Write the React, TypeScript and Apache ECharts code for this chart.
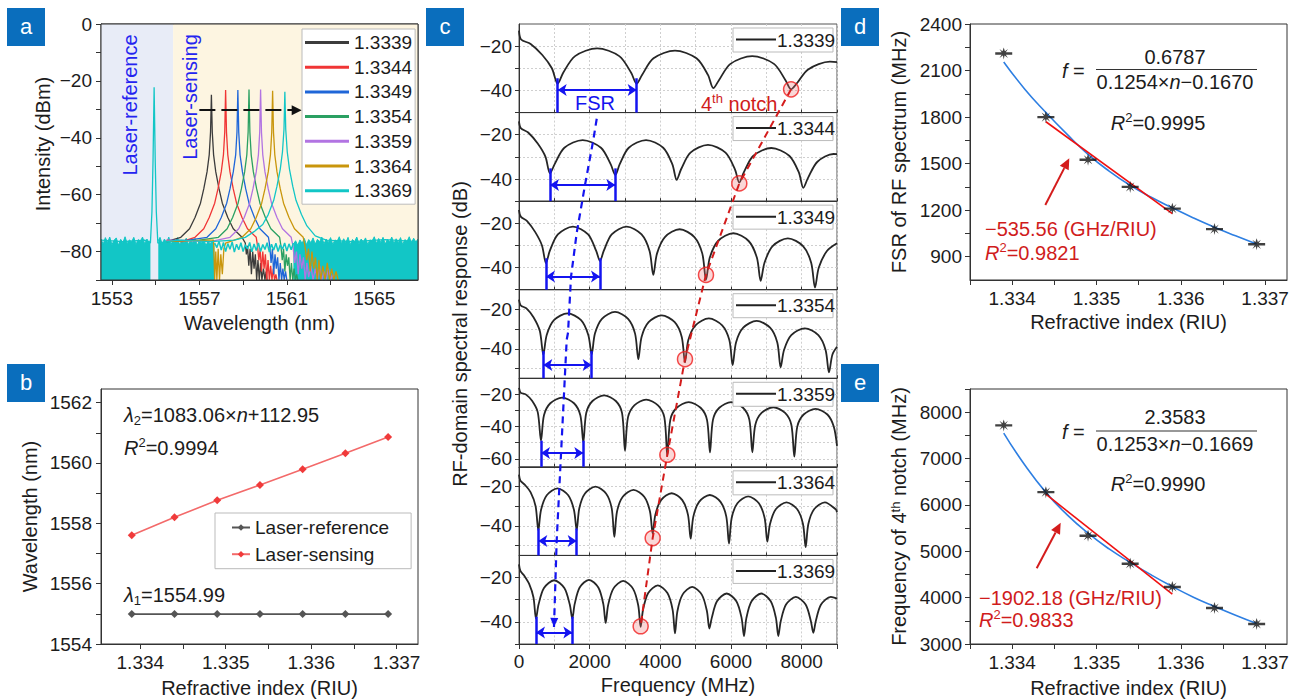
import React, { useEffect, useRef } from 'react';
import * as echarts from 'echarts';

const FONT = "'Liberation Sans', Arial, Helvetica, sans-serif";
const INK = '#1c1c1c';
const BLUE_TXT = '#2424f0';
const RED_TXT = '#d01c1c';
const PANEL_BLUE = '#0a6ebd';
const FSR_BLUE = '#1414f0';

// ---------------- Panel a : optical spectra ----------------
const indexLabels = ['1.3339', '1.3344', '1.3349', '1.3354', '1.3359', '1.3364', '1.3369'];
const specColors = ['#3c3c3c', '#f03535', '#1f66d8', '#2aa062', '#b274e2', '#c9960c', '#12c6c6'];
const aXTicks = [1553, 1555, 1557, 1559, 1561, 1563, 1565];
const aXLabels = [1553, 1557, 1561, 1565];
const aYTicks = [-90, -80, -70, -60, -50, -40, -30, -20, -10, 0];
const aYLabels = [-80, -60, -40, -20, 0];
const regionRef = [1552.5, 1555.8];
const regionSens = [1555.8, 1567];

const spec_1_3339 = [[1555.5,-76.5],[1555.8,-75.8],[1556.15,-75],[1556.55,-72],[1556.8,-68],[1557.05,-63],[1557.2,-58],[1557.35,-52],[1557.45,-46],[1557.51,-38],[1557.55,-24.9],[1557.59,-38],[1557.65,-46],[1557.75,-52],[1557.9,-58],[1558.05,-63],[1558.3,-68],[1558.55,-72],[1558.95,-75],[1559.1,-77],[1559.15,-81],[1559.2,-78],[1559.26,-85],[1559.32,-79],[1559.38,-88],[1559.44,-80],[1559.5,-86],[1559.56,-81],[1559.62,-90],[1559.68,-83],[1559.74,-90],[1559.8,-84],[1559.86,-90],[1559.93,-86],[1560.0,-90],[1560.05,-87],[1560.1,-90]];
const spec_1_3344 = [[1555.5,-76],[1556.2,-76.5],[1556.8,-75],[1557.2,-72],[1557.45,-68],[1557.7,-63],[1557.85,-58],[1558.0,-52],[1558.1,-46],[1558.16,-38],[1558.2,-23.2],[1558.24,-38],[1558.3,-46],[1558.4,-52],[1558.55,-58],[1558.7,-63],[1558.95,-68],[1559.2,-72],[1559.6,-75],[1559.66,-78],[1559.72,-83],[1559.78,-79],[1559.84,-87],[1559.9,-80],[1559.96,-86],[1560.02,-81],[1560.08,-90],[1560.14,-83],[1560.2,-90],[1560.26,-85],[1560.32,-90],[1560.38,-86],[1560.44,-90],[1560.5,-88],[1560.55,-90]];
const spec_1_3349 = [[1555.5,-76.2],[1556.5,-76],[1557.35,-75],[1557.75,-72],[1558.0,-68],[1558.25,-63],[1558.4,-58],[1558.55,-52],[1558.66,-46],[1558.72,-38],[1558.76,-23.2],[1558.8,-38],[1558.86,-46],[1558.97,-52],[1559.12,-58],[1559.27,-63],[1559.52,-68],[1559.77,-72],[1560.16,-75],[1560.22,-78],[1560.28,-84],[1560.34,-79],[1560.4,-88],[1560.46,-81],[1560.52,-86],[1560.58,-82],[1560.64,-90],[1560.7,-84],[1560.76,-90],[1560.82,-86],[1560.88,-90],[1560.94,-87],[1561.0,-90]];
const spec_1_3354 = [[1555.5,-76.5],[1557.0,-76],[1557.87,-75],[1558.27,-72],[1558.52,-68],[1558.77,-63],[1558.92,-58],[1559.07,-52],[1559.17,-46],[1559.23,-38],[1559.27,-23],[1559.31,-38],[1559.37,-46],[1559.47,-52],[1559.62,-58],[1559.77,-63],[1560.02,-68],[1560.27,-72],[1560.67,-75],[1560.73,-78],[1560.79,-83],[1560.85,-79],[1560.91,-87],[1560.97,-81],[1561.03,-85],[1561.09,-82],[1561.15,-90],[1561.21,-84],[1561.27,-90],[1561.33,-86],[1561.39,-90],[1561.45,-88],[1561.5,-90]];
const spec_1_3359 = [[1555.5,-76],[1557.5,-76.5],[1558.4,-75],[1558.8,-72],[1559.05,-68],[1559.3,-63],[1559.45,-58],[1559.6,-52],[1559.7,-46],[1559.76,-38],[1559.8,-23],[1559.84,-38],[1559.9,-46],[1560.0,-52],[1560.15,-58],[1560.3,-63],[1560.55,-68],[1560.8,-72],[1561.2,-75],[1561.28,-78],[1561.36,-84],[1561.44,-80],[1561.52,-88],[1561.6,-81],[1561.68,-86],[1561.76,-82],[1561.84,-90],[1561.92,-84],[1562.0,-89],[1562.1,-85],[1562.2,-90],[1562.3,-86],[1562.4,-90],[1562.5,-85],[1562.6,-90],[1562.7,-87],[1562.8,-90],[1562.9,-86],[1563.0,-90],[1563.1,-88],[1563.15,-90]];
const spec_1_3364 = [[1555.5,-76.4],[1557.5,-76],[1557.65,-76],[1557.7,-90],[1557.75,-80],[1557.8,-90],[1557.86,-79],[1557.92,-90],[1557.98,-81],[1558.05,-88],[1558.12,-79],[1558.2,-77],[1558.95,-75],[1559.35,-72],[1559.6,-68],[1559.85,-63],[1560.0,-58],[1560.15,-52],[1560.25,-46],[1560.31,-38],[1560.35,-23.5],[1560.39,-38],[1560.45,-46],[1560.55,-52],[1560.7,-58],[1560.85,-63],[1561.1,-68],[1561.35,-72],[1561.75,-75],[1561.83,-78],[1561.91,-83],[1561.99,-79],[1562.07,-87],[1562.15,-80],[1562.23,-86],[1562.31,-82],[1562.39,-90],[1562.47,-83],[1562.55,-90],[1562.65,-85],[1562.75,-90],[1562.85,-84],[1562.95,-90],[1563.05,-86],[1563.15,-90],[1563.25,-87],[1563.35,-90]];
const spec_1_3369 = [[1552.5,-76],[1553.5,-76.5],[1554.5,-76],[1554.76,-77],[1554.83,-66],[1554.88,-48],[1554.93,-22.2],[1554.98,-48],[1555.03,-66],[1555.1,-77],[1556.0,-76],[1557.5,-76.5],[1558.6,-76],[1559.1,-75],[1559.5,-73],[1559.9,-70.5],[1560.15,-67],[1560.4,-62],[1560.55,-57],[1560.7,-51],[1560.8,-45],[1560.87,-37],[1560.91,-23.8],[1560.95,-37],[1561.02,-45],[1561.12,-51],[1561.27,-57],[1561.42,-62],[1561.67,-67],[1561.92,-71],[1562.3,-74.5],[1562.8,-76],[1564.0,-76.5],[1565.5,-75.8],[1567.0,-76.5]];
const spectra = [spec_1_3339, spec_1_3344, spec_1_3349, spec_1_3354, spec_1_3359, spec_1_3364, spec_1_3369];

// dense noise floor (drawn as a filled band down to the bottom of the axis)
const noiseFill = [[1552.5,-75.6],[1552.6,-77.4],[1552.7,-75.1],[1552.8,-76.8],[1552.9,-74.9],[1553.0,-77.6],[1553.1,-76.0],[1553.2,-75.2],[1553.3,-77.8],[1553.4,-75.7],[1553.5,-76.9],[1553.6,-74.8],[1553.7,-77.2],[1553.8,-75.9],[1553.9,-76.6],[1554.0,-75.0],[1554.1,-77.5],[1554.2,-75.8],[1554.3,-76.4],[1554.4,-74.9],[1554.5,-77.3],[1554.6,-75.6],[1554.7,-76.8],[1554.76,-76.0],[1554.77,'-'],[1555.12,-76.2],[1555.2,-75.0],[1555.3,-77.4],[1555.4,-75.6],[1555.5,-76.9],[1555.6,-74.9],[1555.7,-77.6],[1555.8,-75.8],[1555.9,-76.5],[1556.0,-75.1],[1556.1,-77.7],[1556.2,-75.9],[1556.3,-76.8],[1556.4,-75.3],[1556.5,-77.5],[1556.6,-76.0],[1556.7,-76.9],[1556.8,-75.4],[1556.9,-77.8],[1557.0,-76.2],[1557.1,-77.0],[1557.2,-75.7],[1557.3,-77.9],[1557.4,-76.4],[1557.5,-77.3],[1557.6,-76.1],[1557.69,-77.6],[1557.7,'-'],[1561.3,-77.5],[1561.4,-76.2],[1561.5,-77.8],[1561.6,-75.9],[1561.7,-77.1],[1561.8,-75.4],[1561.9,-77.6],[1562.0,-75.8],[1562.1,-76.9],[1562.2,-75.2],[1562.3,-77.4],[1562.4,-75.7],[1562.5,-76.6],[1562.6,-74.9],[1562.7,-77.3],[1562.8,-75.6],[1562.9,-76.8],[1563.0,-75.1],[1563.1,-77.5],[1563.2,-75.9],[1563.3,-76.4],[1563.4,-74.8],[1563.5,-77.2],[1563.6,-75.5],[1563.7,-76.9],[1563.8,-75.0],[1563.9,-77.6],[1564.0,-75.8],[1564.1,-76.5],[1564.2,-74.9],[1564.3,-77.3],[1564.4,-75.6],[1564.5,-76.7],[1564.6,-75.2],[1564.7,-77.5],[1564.8,-75.9],[1564.9,-76.3],[1565.0,-74.8],[1565.1,-77.1],[1565.2,-75.4],[1565.3,-76.8],[1565.4,-75.0],[1565.5,-77.4],[1565.6,-75.7],[1565.7,-76.6],[1565.8,-74.9],[1565.9,-77.2],[1566.0,-75.5],[1566.1,-76.9],[1566.2,-75.1],[1566.3,-77.5],[1566.4,-75.8],[1566.5,-76.4],[1566.6,-74.8],[1566.7,-77.0],[1566.8,-75.3],[1566.9,-76.7],[1567.0,-75.6]];
const noiseBand = [[1557.7,-77],[1557.8,-78.6],[1557.9,-76.4],[1558.0,-79.5],[1558.1,-76.8],[1558.2,-80],[1558.3,-77.2],[1558.4,-79.2],[1558.5,-76.6],[1558.6,-80.2],[1558.7,-77.4],[1558.8,-79.4],[1558.9,-76.9],[1559.0,-80],[1559.1,-77.6],[1559.2,-79.1],[1559.3,-76.8],[1559.4,-80.1],[1559.5,-77.3],[1559.6,-79.6],[1559.7,-77],[1559.8,-80],[1559.9,-77.5],[1560.0,-79.3],[1560.1,-76.9],[1560.2,-80.2],[1560.3,-77.4],[1560.4,-79.5],[1560.5,-77.1],[1560.6,-80],[1560.7,-77.6],[1560.8,-79.2],[1560.9,-77],[1561.0,-79.8],[1561.1,-77.3],[1561.2,-79.4],[1561.3,-77]];
const shiftArrow = [[1557.0, -30.3], [1561.45, -30.3]];

// ---------------- Panel b : wavelength vs index ----------------
const riu = [1.3339, 1.3344, 1.3349, 1.3354, 1.3359, 1.3364, 1.3369];
const lambdaRef = [1554.99, 1554.99, 1554.99, 1554.99, 1554.99, 1554.99, 1554.99];
const lambdaSens = [1557.6, 1558.2, 1558.76, 1559.27, 1559.79, 1560.32, 1560.86];
const bXTicks = [1.3335, 1.334, 1.3345, 1.335, 1.3355, 1.336, 1.3365, 1.337];
const bXLabels = [1.334, 1.335, 1.336, 1.337];
const bYTicks = [1554, 1555, 1556, 1557, 1558, 1559, 1560, 1561, 1562];
const bYLabels = [1554, 1556, 1558, 1560, 1562];

// ---------------- Panel c : RF spectra ----------------
const rf_1_3339 = [[0,-13],[60,-17],[330,-19],[660,-24],[930,-30],[1095,-37],[1251,-32],[1587,-24.5],[2212,-21],[2838,-24.5],[3174,-32],[3330,-37],[3482,-33],[3807,-25.5],[4415,-22],[5023,-25.5],[5348,-33],[5500,-39],[5654,-35.5],[5984,-28],[6600,-24.5],[7216,-28],[7546,-35.5],[7700,-39.5],[7854,-37],[8184,-30.5],[8800,-27],[9000,-27.2]];
const rf_1_3344 = [[0,-14],[50,-17],[260,-19],[530,-24],[750,-30],[877,-37.5],[1006,-33.4],[1284,-25.9],[1802,-22.4],[2319,-25.9],[2597,-33.4],[2726,-38.2],[2848,-33.4],[3108,-25.9],[3595,-22.4],[4081,-25.9],[4341,-33.4],[4463,-40.4],[4587,-35.6],[4853,-28.1],[5349,-24.6],[5845,-28.1],[6111,-35.6],[6235,-41.6],[6362,-37],[6634,-29.5],[7141,-26],[7648,-29.5],[7920,-37],[8047,-44],[8174,-39.7],[8446,-32.2],[8900,-28.7],[9000,-28.8]];
const rf_1_3349 = [[0,-14],[50,-17],[230,-19],[460,-24],[650,-30],[764,-38],[871,-32.5],[1100,-25],[1528,-21.5],[1956,-25],[2185,-32.5],[2292,-37],[2398,-32.5],[2624,-25],[3047,-21.5],[3469,-25],[3695,-32.5],[3801,-43.3],[3905,-33.7],[4129,-26.2],[4547,-22.7],[4964,-26.2],[5188,-33.7],[5292,-45.5],[5400,-35.5],[5633,-28],[6066,-24.5],[6499,-28],[6732,-35.5],[6840,-46],[6948,-37.8],[7178,-30.3],[7609,-26.8],[8039,-30.3],[8269,-37.8],[8377,-49],[8485,-40],[8715,-32.5],[9000,-29]];
const rf_1_3354 = [[0,-15],[50,-18],[210,-19.5],[410,-24],[590,-31],[688,-43],[784,-33],[989,-25.5],[1373,-22],[1756,-25.5],[1961,-33],[2057,-42.8],[2149,-32.3],[2347,-24.8],[2717,-21.3],[3087,-24.8],[3285,-32.3],[3377,-45.3],[3469,-34],[3668,-26.5],[4038,-23],[4407,-26.5],[4606,-34],[4698,-46.9],[4792,-35.6],[4995,-28.1],[5373,-24.6],[5750,-28.1],[5953,-35.6],[6047,-48.3],[6142,-36.8],[6346,-29.3],[6726,-25.8],[7106,-29.3],[7310,-36.8],[7405,-49.4],[7501,-40.6],[7706,-33.1],[8089,-29.6],[8472,-33.1],[8677,-40.6],[8773,-52],[8869,-43],[9000,-39]];
const rf_1_3359 = [[0,-16],[50,-19],[190,-20],[370,-24],[530,-31],[623,-48.7],[707,-33],[886,-25.5],[1222,-22],[1557,-25.5],[1736,-33],[1820,-49.7],[1903,-31.6],[2080,-24.1],[2410,-20.6],[2740,-24.1],[2917,-31.6],[3000,-55],[3084,-34.3],[3264,-26.8],[3599,-23.3],[3934,-26.8],[4114,-34.3],[4198,-58],[4282,-35.8],[4464,-28.3],[4802,-24.8],[5139,-28.3],[5321,-35.8],[5405,-56],[5489,-35.8],[5669,-28.3],[6005,-24.8],[6340,-28.3],[6520,-35.8],[6604,-56],[6687,-39],[6865,-31.5],[7198,-28],[7531,-31.5],[7709,-39],[7792,-58.7],[7876,-40],[8056,-32.5],[8392,-29],[8728,-32.5],[8908,-40],[9000,-52]];
const rf_1_3364 = [[0,-14],[40,-17],[160,-19],[330,-23],[470,-30],[547,-42.2],[623,-31.9],[786,-24.4],[1090,-20.9],[1393,-24.4],[1556,-31.9],[1632,-42.2],[1707,-31],[1867,-23.5],[2165,-20],[2463,-23.5],[2623,-31],[2698,-45.6],[2774,-32.7],[2937,-25.2],[3241,-21.7],[3544,-25.2],[3707,-32.7],[3783,-44],[3858,-34.4],[4020,-26.9],[4321,-23.4],[4622,-26.9],[4783,-34.4],[4858,-46.5],[4934,-35.3],[5097,-27.8],[5401,-24.3],[5704,-27.8],[5867,-35.3],[5943,-49],[6019,-36],[6182,-28.5],[6486,-25],[6789,-28.5],[6952,-36],[7028,-48],[7104,-39],[7267,-31.5],[7571,-28],[7874,-31.5],[8037,-39],[8113,-50.8],[8189,-39],[8352,-31.5],[8656,-28],[8959,-31.5],[9000,-33]];
const rf_1_3369 = [[0,-14],[40,-17],[140,-19],[290,-23],[410,-29],[481,-38.5],[553,-32.2],[707,-24.7],[995,-21.2],[1283,-24.7],[1437,-32.2],[1509,-38.5],[1575,-32],[1717,-24.5],[1981,-21],[2245,-24.5],[2387,-32],[2453,-40.5],[2522,-32.5],[2671,-25],[2948,-21.5],[3225,-25],[3374,-32.5],[3443,-42.2],[3511,-34.5],[3657,-27],[3929,-23.5],[4201,-27],[4347,-34.5],[4415,-45.2],[4483,-35.2],[4629,-27.7],[4901,-24.2],[5173,-27.7],[5319,-35.2],[5387,-43],[5456,-38.2],[5603,-30.7],[5878,-27.2],[6152,-30.7],[6299,-38.2],[6368,-46.4],[6436,-38.2],[6582,-30.7],[6854,-27.2],[7125,-30.7],[7271,-38.2],[7339,-46.4],[7408,-39.7],[7557,-32.2],[7835,-28.7],[8112,-32.2],[8261,-39.7],[8330,-45],[8399,-39.7],[8548,-32.2],[8826,-28.7],[9000,-29.5]];
const rfCurves = [rf_1_3339, rf_1_3344, rf_1_3349, rf_1_3354, rf_1_3359, rf_1_3364, rf_1_3369];
const cYMin = [-50, -50, -50, -55, -65, -55, -50];
const cYTicks = [[-50,-40,-30,-20],[-50,-40,-30,-20],[-50,-40,-30,-20],[-50,-40,-30,-20],[-60,-50,-40,-30,-20],[-50,-40,-30,-20],[-50,-40,-30,-20]];
const cYLabels = [[-40,-20],[-40,-20],[-40,-20],[-40,-20],[-60,-40,-20],[-40,-20],[-40,-20]];
const fsrNotches = [[1095,3330],[877,2726],[764,2292],[688,2057],[623,1820],[547,1632],[481,1509]];
const fsrTop = [-34.5, -35.2, -35.8, -41.2, -48.75, -41.3, -37.7];
const fsrArrowY = [-39.8, -42.7, -44, -48.3, -56.4, -47.7, -44.8];
const notch4 = [[7700,-39.5],[6235,-42],[5292,-43.3],[4698,-45.3],[4198,-57.5],[3783,-46.2],[3443,-42]];
const fsrTrend = [[1,2200,-12.8],[1,2103,-22.4],[1,1868,-42.7],[2,1633,-24.4],[2,1472,-44.2],[3,1387,-31.9],[3,1350,-35.4],[4,1208,-48.75],[5,1067,-47.3],[6,990,-42.3]];

// ---------------- Panel d : FSR vs index ----------------
const fsrMHz = [2210, 1800, 1525, 1350, 1210, 1078, 980];
const fsrFit = [[1.3339,2155],[1.33415,1980],[1.3344,1830],[1.33465,1690],[1.3349,1560],[1.33515,1452],[1.3354,1360],[1.33565,1283],[1.3359,1215],[1.33615,1150],[1.3364,1090],[1.33665,1035],[1.3369,982]];
const fsrTangent = [[1.3344, 1770], [1.3359, 1178]];
const dXTicks = [1.3335, 1.334, 1.3345, 1.335, 1.3355, 1.336, 1.3365, 1.337];
const dXLabels = [1.334, 1.335, 1.336, 1.337];
const dYTicks = [900, 1050, 1200, 1350, 1500, 1650, 1800, 1950, 2100, 2250, 2400];
const dYLabels = [900, 1200, 1500, 1800, 2100, 2400];

// ---------------- Panel e : 4th notch vs index ----------------
const notchMHz = [7715, 6275, 5335, 4730, 4230, 3775, 3430];
const notchFit = [[1.3339,7550],[1.33415,6860],[1.3344,6270],[1.33465,5790],[1.3349,5390],[1.33515,5050],[1.3354,4760],[1.33565,4490],[1.3359,4240],[1.33615,4010],[1.3364,3810],[1.33665,3620],[1.3369,3440]];
const notchTangent = [[1.3344, 6230], [1.3359, 4075]];
const eYTicks = [3000, 3500, 4000, 4500, 5000, 5500, 6000, 6500, 7000, 7500, 8000, 8500];
const eYLabels = [3000, 4000, 5000, 6000, 7000, 8000];

// ---------------- helpers ----------------
const neg = (v: number) => (v < 0 ? '\u2212' + Math.abs(v) : String(v));
const axisLineS = { show: true, onZero: false, lineStyle: { color: '#333', width: 1 } };
const tickS = (vals: number[], len = 5, inside = false) => ({ show: true, customValues: vals, length: len, inside, lineStyle: { color: '#333', width: 1 } });
const labelS = (vals: number[], fmt: any, margin = 8) => ({ show: true, customValues: vals, formatter: fmt, fontSize: 19, color: INK, fontFamily: FONT, margin });
const nameS = { fontSize: 20, color: INK, fontFamily: FONT };
const noSplit = { show: false };
const dotted = { show: true, lineStyle: { color: '#cfcfcf', type: [2, 2], width: 1 } };
const star = 'path://M0,4L16,4L16,6L0,6Z M8,0L9.4,4L8,10L6.6,4Z M4,1.2L8.7,4.4L7.3,5.6Z M12,1.2L8.7,5.6L7.3,4.4Z M4,8.8L7.3,4.4L8.7,5.6Z M12,8.8L7.3,5.6L8.7,4.4Z';

const tok = (fill: string) => ({
  n: { fontSize: 20, fontFamily: FONT, fill, lineHeight: 24 },
  i: { fontSize: 20, fontFamily: FONT, fill, fontStyle: 'italic', lineHeight: 24 },
  sub: { fontSize: 13, fontFamily: FONT, fill, verticalAlign: 'bottom' },
  sup: { fontSize: 13, fontFamily: FONT, fill, verticalAlign: 'top' },
});

function txt(text: string, x: number, y: number, o: any = {}) {
  return {
    type: 'text', z: 100, x, y, rotation: o.rot || 0,
    style: {
      text, x: 0, y: 0, fill: o.fill || INK, fontSize: o.size || 20, fontFamily: FONT,
      fontStyle: o.italic ? 'italic' : 'normal',
      align: o.align || 'left', textAlign: o.align || 'left',
      verticalAlign: 'middle', textVerticalAlign: 'middle',
      rich: o.rich,
    },
  };
}

function arrowEls(x1: number, y1: number, x2: number, y2: number, color: string, w = 2, head = 11, half = 5) {
  const dx = x2 - x1, dy = y2 - y1, len = Math.hypot(dx, dy), ux = dx / len, uy = dy / len;
  const bx = x2 - ux * head, by = y2 - uy * head;
  return [
    { type: 'line', z: 100, shape: { x1, y1, x2: bx, y2: by }, style: { stroke: color, lineWidth: w } },
    { type: 'polygon', z: 100, shape: { points: [[x2, y2], [bx - uy * half, by + ux * half], [bx + uy * half, by - ux * half]] }, style: { fill: color } },
  ];
}

export default function App() {
  const ref = useRef<HTMLDivElement>(null);
  useEffect(() => {
    const chart = echarts.init(ref.current!, null, { renderer: 'svg' });

    const cTop = 24, cH = 620 / 7;
    const gBase = { show: true, borderColor: '#333', borderWidth: 1, backgroundColor: 'transparent', containLabel: false, outerBoundsMode: 'none' };
    const grids: any[] = [
      { ...gBase, left: 101, top: 24, width: 317, height: 256 },
      { ...gBase, left: 101, top: 389, width: 317, height: 255 },
    ];
    for (let k = 0; k < 7; k++) grids.push({ ...gBase, borderColor: '#555', left: 519, top: cTop + k * cH, width: 318, height: cH });
    grids.push({ ...gBase, left: 970, top: 24, width: 317, height: 256 });
    grids.push({ ...gBase, left: 970, top: 389, width: 317, height: 255 });

    const xAxes: any[] = [
      { gridIndex: 0, type: 'value', min: 1552.5, max: 1567, axisLine: axisLineS, axisTick: tickS(aXTicks), axisLabel: labelS(aXLabels, (v: number) => String(v), 9), splitLine: noSplit, name: 'Wavelength (nm)', nameLocation: 'middle', nameGap: 33, nameTextStyle: nameS },
      { gridIndex: 1, type: 'value', min: 1.33354, max: 1.33725, axisLine: axisLineS, axisTick: tickS(bXTicks), axisLabel: labelS(bXLabels, (v: number) => v.toFixed(3), 9), splitLine: noSplit, name: 'Refractive index (RIU)', nameLocation: 'middle', nameGap: 34, nameTextStyle: nameS },
    ];
    const yAxes: any[] = [
      { gridIndex: 0, type: 'value', min: -90, max: 0, axisLine: axisLineS, axisTick: tickS(aYTicks), axisLabel: labelS(aYLabels, neg, 9), splitLine: noSplit },
      { gridIndex: 1, type: 'value', min: 1554, max: 1562.45, axisLine: axisLineS, axisTick: tickS(bYTicks), axisLabel: labelS(bYLabels, (v: number) => String(v), 9), splitLine: noSplit, name: 'Wavelength (nm)', nameLocation: 'middle', nameGap: 61, nameTextStyle: nameS },
    ];
    for (let k = 0; k < 7; k++) {
      const last = k === 6;
      xAxes.push({
        gridIndex: 2 + k, type: 'value', min: 0, max: 9000, interval: 1000,
        axisLine: axisLineS, axisTick: { show: true, length: last ? 5 : 3, inside: !last, lineStyle: { color: '#333' } },
        axisLabel: { show: last, formatter: (v: number) => (v % 2000 === 0 ? String(v) : ''), fontSize: 19, color: INK, fontFamily: FONT, margin: 8 },
        splitLine: dotted,
        name: last ? 'Frequency (MHz)' : '', nameLocation: 'middle', nameGap: 31, nameTextStyle: nameS,
      });
      yAxes.push({
        gridIndex: 2 + k, type: 'value', min: cYMin[k], max: -10,
        axisLine: axisLineS, axisTick: tickS(cYTicks[k], 4), axisLabel: labelS(cYLabels[k], neg, 7), splitLine: dotted,
      });
    }
    xAxes.push({ gridIndex: 9, type: 'value', min: 1.3335, max: 1.33726, axisLine: axisLineS, axisTick: tickS(dXTicks), axisLabel: labelS(dXLabels, (v: number) => v.toFixed(3), 9), splitLine: noSplit, name: 'Refractive index (RIU)', nameLocation: 'middle', nameGap: 32, nameTextStyle: nameS });
    xAxes.push({ gridIndex: 10, type: 'value', min: 1.3335, max: 1.33726, axisLine: axisLineS, axisTick: tickS(dXTicks), axisLabel: labelS(dXLabels, (v: number) => v.toFixed(3), 9), splitLine: noSplit, name: 'Refractive index (RIU)', nameLocation: 'middle', nameGap: 34, nameTextStyle: nameS });
    yAxes.push({ gridIndex: 9, type: 'value', min: 750, max: 2400, axisLine: axisLineS, axisTick: tickS(dYTicks), axisLabel: labelS(dYLabels, (v: number) => String(v), 8), splitLine: noSplit, name: 'FSR of RF spectrum (MHz)', nameLocation: 'middle', nameGap: 61, nameTextStyle: nameS });
    yAxes.push({ gridIndex: 10, type: 'value', min: 3000, max: 8500, axisLine: axisLineS, axisTick: tickS(eYTicks), axisLabel: labelS(eYLabels, (v: number) => String(v), 8), splitLine: noSplit, name: 'Frequency of 4{sup|th} notch (MHz)', nameLocation: 'middle', nameGap: 61, nameTextStyle: { ...nameS, rich: { sup: { fontSize: 13, fontFamily: FONT, fill: INK, verticalAlign: 'top' } } } });

    const series: any[] = [];
    // panel a
    series.push({
      type: 'line', name: 'regions', xAxisIndex: 0, yAxisIndex: 0, data: [[1552.5, -200]], symbol: 'none', z: 1, silent: true,
      lineStyle: { width: 0 },
      markArea: { silent: true, data: [
        [{ xAxis: regionRef[0], itemStyle: { color: '#e8ecf7' } }, { xAxis: regionRef[1] }],
        [{ xAxis: regionSens[0], itemStyle: { color: '#fdf5e1' } }, { xAxis: regionSens[1] }],
      ] },
    });
    series.push({
      type: 'line', name: 'noise-floor', xAxisIndex: 0, yAxisIndex: 0, data: noiseFill, symbol: 'none', connectNulls: false, z: 2, silent: true,
      lineStyle: { color: specColors[6], width: 1 }, areaStyle: { color: specColors[6], opacity: 1, origin: 'start' },
    });
    spectra.forEach((d, i) => {
      series.push({
        type: 'line', name: indexLabels[i], xAxisIndex: 0, yAxisIndex: 0, data: d, symbol: 'none', z: 3,
        lineStyle: { color: specColors[i], width: 1.3 }, itemStyle: { color: specColors[i] },
      });
    });
    series.push({
      type: 'line', name: 'noise-band', xAxisIndex: 0, yAxisIndex: 0, data: noiseBand, symbol: 'none', z: 4, silent: true,
      lineStyle: { color: specColors[6], width: 1.5 },
      markLine: {
        silent: true, symbol: ['none', 'triangle'], symbolSize: [10, 10], label: { show: false },
        lineStyle: { color: '#111', width: 2, type: [16, 6] },
        data: [[{ coord: shiftArrow[0] }, { coord: shiftArrow[1] }]],
      },
    });
    // panel b
    series.push({
      type: 'line', name: 'Laser-reference', xAxisIndex: 1, yAxisIndex: 1, data: riu.map((n, i) => [n, lambdaRef[i]]),
      symbol: 'diamond', symbolSize: 8, lineStyle: { color: '#555', width: 1.6 }, itemStyle: { color: '#555' },
    });
    series.push({
      type: 'line', name: 'Laser-sensing', xAxisIndex: 1, yAxisIndex: 1, data: riu.map((n, i) => [n, lambdaSens[i]]),
      symbol: 'diamond', symbolSize: 8, lineStyle: { color: '#f36a6a', width: 1.6 }, itemStyle: { color: '#f03a3a' },
    });
    // panel c
    rfCurves.forEach((d, k) => {
      const [n1, n2] = fsrNotches[k];
      const lo = cYMin[k];
      series.push({
        type: 'line', name: 'RF ' + indexLabels[k], xAxisIndex: 2 + k, yAxisIndex: 2 + k, data: d, symbol: 'none', smooth: 0.3, z: 3,
        lineStyle: { color: '#262626', width: 1.8 },
        markLine: {
          silent: true, symbol: 'none', label: { show: false },
          lineStyle: { color: FSR_BLUE, width: 2.5, type: 'solid' },
          data: [
            [{ coord: [n1, fsrTop[k]] }, { coord: [n1, lo] }],
            [{ coord: [n2, fsrTop[k]] }, { coord: [n2, lo] }],
            [{ coord: [n1, fsrArrowY[k]], symbol: 'arrow', symbolSize: 9, lineStyle: { color: FSR_BLUE, width: 2 } },
             { coord: [n2, fsrArrowY[k]], symbol: 'arrow', symbolSize: 9 }],
          ],
        },
      });
      series.push({
        type: 'scatter', name: '4th notch ' + indexLabels[k], xAxisIndex: 2 + k, yAxisIndex: 2 + k, data: [notch4[k]], symbol: 'circle', symbolSize: 15, z: 6,
        itemStyle: { color: 'rgba(238,110,110,0.35)', borderColor: '#f01e1e', borderWidth: 1.5 },
      });
    });
    // panel d
    series.push({ type: 'line', name: 'FSR fit', xAxisIndex: 9, yAxisIndex: 9, data: fsrFit, smooth: true, symbol: 'none', lineStyle: { color: '#2e7fe2', width: 1.6 }, z: 3 });
    series.push({ type: 'line', name: 'FSR linear', xAxisIndex: 9, yAxisIndex: 9, data: fsrTangent, symbol: 'none', lineStyle: { color: '#f01010', width: 1.6 }, z: 4 });
    series.push({ type: 'scatter', name: 'FSR data', xAxisIndex: 9, yAxisIndex: 9, data: riu.map((n, i) => [n, fsrMHz[i]]), symbol: star, symbolSize: [17, 12], itemStyle: { color: '#111' }, z: 5 });
    // panel e
    series.push({ type: 'line', name: 'Notch fit', xAxisIndex: 10, yAxisIndex: 10, data: notchFit, smooth: true, symbol: 'none', lineStyle: { color: '#2e7fe2', width: 1.6 }, z: 3 });
    series.push({ type: 'line', name: 'Notch linear', xAxisIndex: 10, yAxisIndex: 10, data: notchTangent, symbol: 'none', lineStyle: { color: '#f01010', width: 1.6 }, z: 4 });
    series.push({ type: 'scatter', name: 'Notch data', xAxisIndex: 10, yAxisIndex: 10, data: riu.map((n, i) => [n, notchMHz[i]]), symbol: star, symbolSize: [17, 12], itemStyle: { color: '#111' }, z: 5 });

    const legends = [
      {
        data: indexLabels, orient: 'vertical', left: 302, top: 29, itemWidth: 44, itemHeight: 3, icon: 'rect', itemGap: 5.7,
        padding: [4, 3, 4, 3], backgroundColor: '#fff', borderColor: '#bbb', borderWidth: 1,
        textStyle: { fontSize: 19, color: INK, fontFamily: FONT }, selectedMode: false, z: 20,
      },
      {
        data: ['Laser-reference', 'Laser-sensing'], orient: 'vertical', left: 215, top: 513, itemWidth: 18, itemHeight: 8, itemGap: 7.7,
        padding: [5, 22, 5, 16], backgroundColor: '#fff', borderColor: '#bbb', borderWidth: 1,
        textStyle: { fontSize: 19, color: INK, fontFamily: FONT }, selectedMode: false, z: 20,
      },
    ];

    chart.setOption({
      animation: false,
      backgroundColor: '#fff',
      textStyle: { fontFamily: FONT },
      grid: grids, xAxis: xAxes, yAxis: yAxes, legend: legends, series,
    });

    // ---------- graphics ----------
    const g: any[] = [];
    const panelLabel = (ch: string, x: number, y: number) => {
      g.push({ type: 'rect', z: 100, shape: { x, y, width: 38, height: 38 }, style: { fill: PANEL_BLUE } });
      g.push(txt(ch, x + 19, y + 18, { fill: '#fff', size: 22, align: 'center' }));
    };
    panelLabel('a', 7, 8);
    panelLabel('b', 7, 364);
    panelLabel('c', 426, 8);
    panelLabel('d', 841, 8);
    panelLabel('e', 841, 364);

    // panel a
    g.push({ type: 'rect', z: 50, shape: { x: 101, y: 24, width: 317, height: 256 }, style: { fill: 'none', stroke: '#333', lineWidth: 1 } });
    g.push(txt('Intensity (dBm)', 43, 144, { rot: Math.PI / 2, align: 'center' }));
    g.push(txt('Laser-reference', 130, 105, { rot: Math.PI / 2, align: 'center', fill: BLUE_TXT }));
    g.push(txt('Laser-sensing', 190, 97, { rot: Math.PI / 2, align: 'center', fill: BLUE_TXT }));

    // panel b
    const rk = tok(INK);
    g.push(txt('{i|λ}{sub|2}{n|=1083.06×}{i|n}{n|+112.95}', 124, 415, { rich: rk }));
    g.push(txt('{i|R}{sup|2}{n|=0.9994}', 124, 448, { rich: rk }));
    g.push(txt('{i|λ}{sub|1}{n|=1554.99}', 124, 595, { rich: rk }));

    // panel c
    g.push(txt('RF-domain spectral response (dB)', 460, 334, { rot: Math.PI / 2, align: 'center' }));
    for (let k = 0; k < 7; k++) {
      const t = cTop + k * cH;
      g.push({ type: 'rect', z: 90, shape: { x: 733, y: t + 4, width: 100, height: 24 }, style: { fill: '#fff', stroke: '#bbb', lineWidth: 1 } });
      g.push({ type: 'line', z: 91, shape: { x1: 736, y1: t + 15.5, x2: 776, y2: t + 15.5 }, style: { stroke: '#222', lineWidth: 2 } });
      g.push(txt(indexLabels[k], 777, t + 16, { size: 19 }));
    }
    g.push(txt('FSR', 595, 103, { fill: FSR_BLUE, align: 'center' }));
    const rr = tok(RED_TXT);
    g.push(txt('{n|4}{sup|th}{n| notch}', 701, 104, { rich: rr, fill: RED_TXT }));

    const px = (k: number, f: number, v: number) => chart.convertToPixel({ gridIndex: 2 + k } as any, [f, v]) as number[];
    const bluePts = fsrTrend.map(([k, f, v]) => px(k, f, v));
    g.push({ type: 'polyline', z: 95, shape: { points: bluePts }, style: { stroke: FSR_BLUE, lineWidth: 2.2, lineDash: [7, 5], fill: null } });
    {
      const a = bluePts[bluePts.length - 2], b = bluePts[bluePts.length - 1];
      const dx = b[0] - a[0], dy = b[1] - a[1], len = Math.hypot(dx, dy), ux = dx / len, uy = dy / len;
      const bx = b[0] - ux * 9, by = b[1] - uy * 9;
      g.push({ type: 'polygon', z: 95, shape: { points: [b, [bx - uy * 4, by + ux * 4], [bx + uy * 4, by - ux * 4]] }, style: { fill: FSR_BLUE } });
    }
    const redPts = notch4.map(([f, v], k) => px(k, f, v));
    g.push({ type: 'polyline', z: 95, shape: { points: redPts }, style: { stroke: '#d41c1c', lineWidth: 2, lineDash: [7, 5], fill: null } });

    // panel d
    const ik = tok(INK);
    g.push(txt('{i|f}{n| =}', 1062, 71, { rich: ik }));
    g.push(txt('0.6787', 1175, 57, { align: 'center' }));
    g.push({ type: 'line', z: 100, shape: { x1: 1096, y1: 69.5, x2: 1257, y2: 69.5 }, style: { stroke: '#333', lineWidth: 1.2 } });
    g.push(txt('{n|0.1254×}{i|n}{n|−0.1670}', 1175, 82, { rich: ik, align: 'center' }));
    g.push(txt('{i|R}{sup|2}{n|=0.9995}', 1158, 123, { rich: ik, align: 'center' }));
    g.push(txt('−535.56 (GHz/RIU)', 985, 229, { fill: RED_TXT }));
    g.push(txt('{i|R}{sup|2}{n|=0.9821}', 985, 253, { rich: rr, fill: RED_TXT }));
    g.push(...arrowEls(1045.3, 205, 1069.3, 158.3, '#d41c1c'));

    // panel e
    g.push(txt('{i|f}{n| =}', 1062, 432, { rich: ik }));
    g.push(txt('2.3583', 1175, 417, { align: 'center' }));
    g.push({ type: 'line', z: 100, shape: { x1: 1096, y1: 431, x2: 1257, y2: 431 }, style: { stroke: '#333', lineWidth: 1.2 } });
    g.push(txt('{n|0.1253×}{i|n}{n|−0.1669}', 1175, 443.5, { rich: ik, align: 'center' }));
    g.push(txt('{i|R}{sup|2}{n|=0.9990}', 1158, 484, { rich: ik, align: 'center' }));
    g.push(txt('−1902.18 (GHz/RIU)', 979, 598, { fill: RED_TXT }));
    g.push(txt('{i|R}{sup|2}{n|=0.9833}', 979, 620, { rich: rr, fill: RED_TXT }));
    g.push(...arrowEls(1036.7, 568.3, 1060.7, 522.7, '#d41c1c'));

    chart.setOption({ graphic: g });

    return () => chart.dispose();
  }, []);
  return <div ref={ref} style={{ position: 'absolute', left: 0, top: 0, width: 1303, height: 700, background: '#fff' }} />;
}
